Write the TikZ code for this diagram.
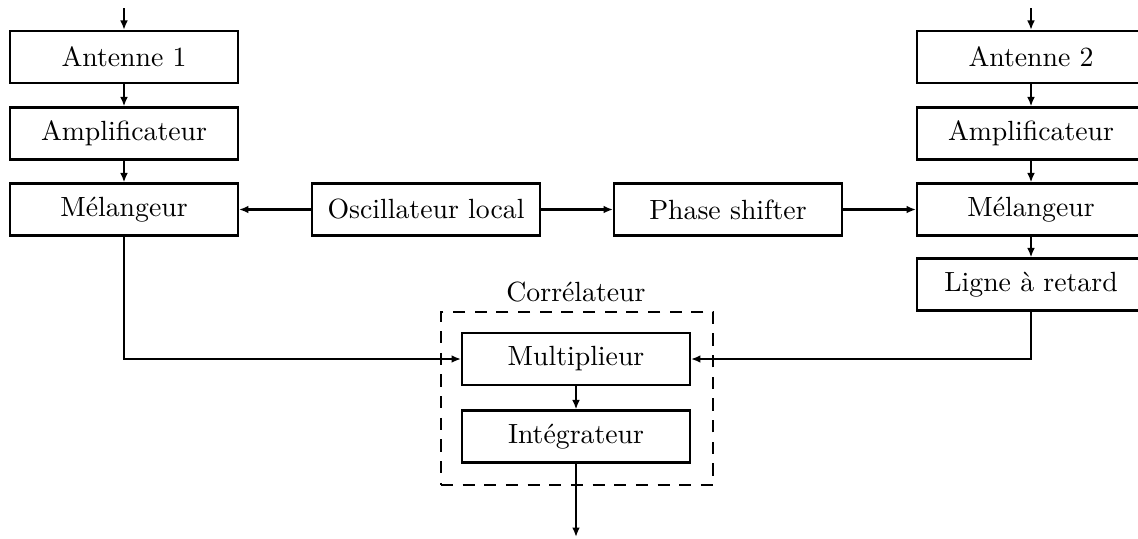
\documentclass[tikz,border=0pt]{standalone}
\usetikzlibrary{arrows.meta}
\begin{document}
\begin{tikzpicture}[x=0.36pt,y=-0.36pt,
  blk/.style={draw, line width=0.8pt, minimum width=82pt, minimum height=18.7pt, inner sep=0pt, font=\normalsize},
  conn/.style={line width=0.8pt, -{Latex[length=3.4pt,width=2.8pt]}},
  grp/.style={draw, line width=0.8pt, dash pattern=on 4.4pt off 3.4pt}]
\useasboundingbox (0,0) rectangle (1138,538);
\clip (0,0) rectangle (1138,538);
% left chain
\node[blk] (ant1) at (124,57) {Antenne 1};
\node[blk] (amp1) at (124,133.5) {Amplificateur};
\node[blk] (mel1) at (124,209.5) {Mélangeur};
% middle
\node[blk] (osc) at (426,209.5) {Oscillateur local};
\node[blk] (ph) at (728,209.5) {Phase shifter};
% right chain
\node[blk] (ant2) at (1031,57) {Antenne 2};
\node[blk] (amp2) at (1031,133.5) {Amplificateur};
\node[blk] (mel2) at (1031,209.5) {Mélangeur};
\node[blk] (lig) at (1031,284.5) {Ligne à retard};
% correlator
\node[blk] (mul) at (576,359) {Multiplieur};
\node[blk] (int) at (576,436.5) {Intégrateur};
\node[grp, minimum width=98pt, minimum height=62.3pt, inner sep=0pt] (cor) at (577,398.5) {};
\node[font=\normalsize] (corlab) at (576,292) {Corrélateur};
% free ends
\coordinate (in1) at (124,8);
\coordinate (in2) at (1031,8);
\coordinate (out) at (576,537);
% connectors
\draw[conn] (in1) -- (ant1);
\draw[conn] (ant1) -- (amp1);
\draw[conn] (amp1) -- (mel1);
\draw[conn] (in2) -- (ant2);
\draw[conn] (ant2) -- (amp2);
\draw[conn] (amp2) -- (mel2);
\draw[conn] (mel2) -- (lig);
\draw[conn] (osc) -- (mel1);
\draw[conn] (osc) -- (ph);
\draw[conn] (ph) -- (mel2);
\draw[conn] (mel1.south) |- (mul.west);
\draw[conn] (lig.south) |- (mul.east);
\draw[conn] (mul) -- (int);
\draw[conn] (int) -- (out);
\end{tikzpicture}
\end{document}
